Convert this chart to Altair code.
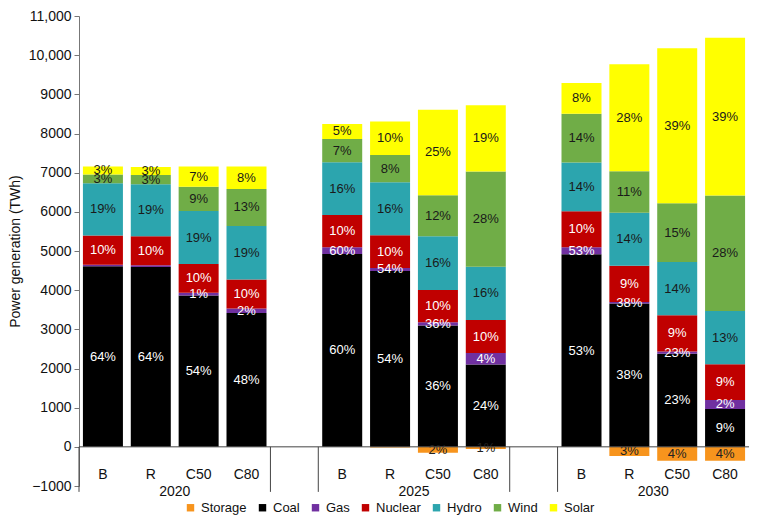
import altair as alt
import pandas as pd

years = ["2020", "2025", "2030"]
scenarios = ["B", "R", "C50", "C80"]
sources = ["Storage", "Coal", "Gas", "Nuclear", "Hydro", "Wind", "Solar"]
colors = ["#F7941D", "#000000", "#7030A0", "#C00000", "#2CA5AE", "#70AD47", "#FFFF00"]
label_colors = ["#222222", "#FFFFFF", "#FFFFFF", "#FFFFFF", "#1A1A1A", "#1A1A1A", "#1A1A1A"]

# TWh, order: 2020 B,R,C50,C80 | 2025 B,R,C50,C80 | 2030 B,R,C50,C80
storage = [0, 0, 0, 0, 0, -15, -149, -58, 0, -231, -355, -355]
coal = [4608, 4592, 3865, 3419, 4923, 4492, 3097, 2099, 4914, 3659, 2379, 966]
gas = [42, 41, 66, 116, 173, 75, 82, 297, 182, 41, 57, 231]
nuclear = [744, 744, 735, 735, 826, 834, 827, 842, 917, 925, 926, 909]
hydro = [1338, 1330, 1355, 1371, 1346, 1356, 1371, 1363, 1247, 1354, 1354, 1363]
wind = [223, 231, 619, 942, 594, 693, 1048, 2428, 1246, 1058, 1503, 2948]
solar = [205, 206, 520, 577, 381, 859, 2181, 1692, 785, 2733, 3957, 4030]

storage_lbl = ["", "", "", "", "", "", "2%", "1%", "", "3%", "4%", "4%"]
coal_lbl = ["64%", "64%", "54%", "48%", "60%", "54%", "36%", "24%", "53%", "38%", "23%", "9%"]
gas_lbl = ["", "", "1%", "2%", "60%", "54%", "36%", "4%", "53%", "38%", "23%", "2%"]
nuclear_lbl = ["10%", "10%", "10%", "10%", "10%", "10%", "10%", "10%", "10%", "9%", "9%", "9%"]
hydro_lbl = ["19%", "19%", "19%", "19%", "16%", "16%", "16%", "16%", "14%", "14%", "14%", "13%"]
wind_lbl = ["3%", "3%", "9%", "13%", "7%", "8%", "12%", "28%", "14%", "11%", "15%", "28%"]
solar_lbl = ["3%", "3%", "7%", "8%", "5%", "10%", "25%", "19%", "8%", "28%", "39%", "39%"]

y_ticks = [-1000, 0, 1000, 2000, 3000, 4000, 5000, 6000, 7000, 8000, 9000, 10000, 11000]

values = [storage, coal, gas, nuclear, hydro, wind, solar]
labels = [storage_lbl, coal_lbl, gas_lbl, nuclear_lbl, hydro_lbl, wind_lbl, solar_lbl]

# category keys incl. blank gap categories between year groups
keys = []
for yi, yr in enumerate(years):
    for s in scenarios:
        keys.append(f"{yr} {s}")
    if yi < len(years) - 1:
        keys.append(f"gap{yi}")

rows = []
i = 0
for yr in years:
    for s in scenarios:
        for k, src in enumerate(sources):
            rows.append({"key": f"{yr} {s}", "source": src, "order": k,
                         "value": values[k][i], "label": labels[k][i],
                         "lcolor": label_colors[k]})
        i += 1
df = pd.DataFrame(rows)

scen_df = pd.DataFrame({"key": [f"{yr} {s}" for yr in years for s in scenarios],
                        "name": [s for yr in years for s in scenarios]})
year_df = pd.DataFrame({"key": [f"{yr} C50" for yr in years], "year": years})
sep_df = pd.DataFrame({"key": [keys[0], "gap0", "2025 B", "gap1", "2030 B"]})

W, H = 670, 470
PI = 1 - 40 / (W / len(keys))
PO = PI / 2
half_gap = PO * W / len(keys)

xscale = alt.Scale(domain=keys, paddingInner=PI, paddingOuter=PO)
yscale = alt.Scale(domain=[-1000, 11000], nice=False, zero=False)
yaxis = alt.Axis(
    values=y_ticks, tickCount=30,
    labelExpr="datum.value >= 10000 ? format(datum.value, ',') : format(datum.value, 'd')",
    title="Power generation (TWh)", grid=False, tickSize=5, labelPadding=3,
    labelOverlap=False, labelFlush=False, labelSeparation=0,
    titlePadding=6, labelFontSize=14, titleFontSize=14, titleFontWeight="normal",
    domainColor="#777777", tickColor="#777777", labelColor="#111111", titleColor="#111111")

stacked = alt.Chart(df).transform_stack(
    stack="value", groupby=["key"], as_=["y0", "y1"],
    sort=[alt.SortField("order", order="ascending")], offset="zero"
).transform_calculate(mid="(datum.y0 + datum.y1) / 2")

bars = stacked.mark_bar().encode(
    x=alt.X("key:N", scale=xscale, axis=None),
    y=alt.Y("y0:Q", scale=yscale, axis=yaxis),
    y2="y1:Q",
    color=alt.Color("source:N", scale=alt.Scale(domain=sources, range=colors), sort=sources,
                    legend=alt.Legend(orient="none", legendX=105, legendY=485, direction="horizontal",
                                      columns=7, title=None, symbolType="square", symbolSize=55,
                                      symbolStrokeWidth=0, labelFontSize=13, columnPadding=9,
                                      labelColor="#111111")),
)

seg_text = stacked.transform_filter("datum.label != ''").mark_text(fontSize=13).encode(
    x=alt.X("key:N", scale=xscale, axis=None),
    y=alt.Y("mid:Q", scale=yscale, axis=yaxis),
    text="label:N",
    color=alt.Color("lcolor:N", scale=None),
)

zero_line = alt.Chart(pd.DataFrame({"v": [0]})).mark_rule(color="#444444", strokeWidth=1).encode(
    y=alt.Y("v:Q", scale=yscale, axis=yaxis)
)

seps = alt.Chart(sep_df).mark_rule(color="#444444", strokeWidth=1, xOffset=-half_gap).encode(
    x=alt.X("key:N", scale=xscale, axis=None, bandPosition=0),
    y=alt.datum(0),
    y2=alt.datum(-1150),
)

scen_text = alt.Chart(scen_df).mark_text(fontSize=14, color="#111111").encode(
    x=alt.X("key:N", scale=xscale, axis=None),
    y=alt.datum(-720),
    text="name:N",
)

year_text = alt.Chart(year_df).mark_text(fontSize=14, color="#111111", xOffset=-half_gap).encode(
    x=alt.X("key:N", scale=xscale, axis=None, bandPosition=0),
    y=alt.datum(-1150),
    text="year:N",
)

chart = alt.layer(bars, seg_text, zero_line, seps, scen_text, year_text).properties(
    width=W, height=H,
    padding={"left": 71, "top": 8, "right": 0, "bottom": 30},
    autosize=alt.AutoSizeParams(type="none"),
).configure(font="Liberation Sans").configure_view(stroke=None).configure_axis(
    labelOverlap=False, labelSeparation=0
)

chart.save("out.html", embed_options={"renderer": "svg", "actions": False})
